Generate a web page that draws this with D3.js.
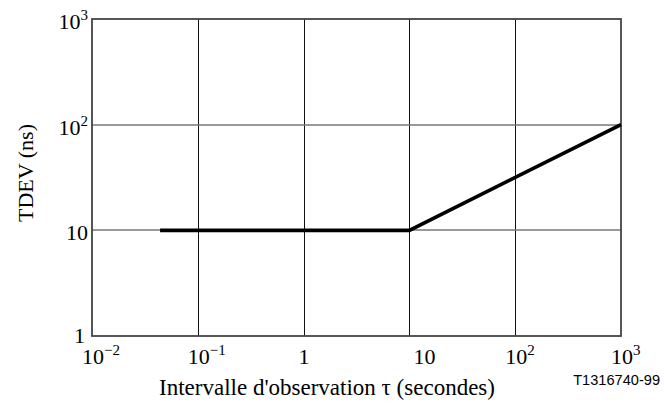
<!DOCTYPE html>
<html>
<head>
<meta charset="utf-8">
<script src="https://cdn.jsdelivr.net/npm/d3@7"></script>
<style>
  body { margin: 0; background: #fff; }
  text { font-family: "Liberation Serif", "Times New Roman", serif; fill: #000; }
</style>
</head>
<body>
<div id="chart"></div>
<script>
// TDEV mask: flat 10 ns up to tau = 10 s, then rising as sqrt(tau)
var tau = [0.044, 10, 1000];
var tdev = [10, 10, 100];
var xTicks = [0.01, 0.1, 1, 10, 100, 1000];
var yTicks = [1, 10, 100, 1000];

var width = 664, height = 409;
var margin = {top: 19, right: 43, bottom: 73, left: 92};

var svg = d3.select("#chart").append("svg")
    .attr("width", width)
    .attr("height", height);

var x = d3.scaleLog().domain([0.01, 1000]).range([margin.left, width - margin.right]);
var y = d3.scaleLog().domain([1, 1000]).range([height - margin.bottom, margin.top]);

// grid
svg.append("g").selectAll("line")
    .data(xTicks.slice(1, -1))
  .enter().append("line")
    .attr("x1", d => Math.round(x(d)) + 0.5).attr("x2", d => Math.round(x(d)) + 0.5)
    .attr("y1", y(1)).attr("y2", y(1000))
    .attr("stroke", "#111").attr("stroke-width", 1);

svg.append("g").selectAll("line")
    .data(yTicks.slice(1, -1))
  .enter().append("line")
    .attr("x1", x(0.01)).attr("x2", x(1000))
    .attr("y1", d => Math.round(y(d))).attr("y2", d => Math.round(y(d)))
    .attr("stroke", "#777").attr("stroke-width", 1.4);

// frame
svg.append("rect")
    .attr("x", x(0.01)).attr("y", y(1000))
    .attr("width", x(1000) - x(0.01))
    .attr("height", y(1) - y(1000))
    .attr("fill", "none").attr("stroke", "#444").attr("stroke-width", 1.8);

// mask curve
var line = d3.line().x(d => x(d[0])).y(d => y(d[1]));
svg.append("path")
    .datum(d3.zip(tau, tdev))
    .attr("d", line)
    .attr("fill", "none")
    .attr("stroke", "#000")
    .attr("stroke-width", 3.6);

function powLabel(sel, v) {
  var e = Math.round(Math.log10(v));
  if (e === 0) { sel.text("1"); return; }
  if (e === 1) { sel.text("10"); return; }
  sel.append("tspan").text("10");
  sel.append("tspan")
      .attr("dy", -9)
      .attr("font-size", 15)
      .text(e < 0 ? "\u2212" + (-e) : e);
}

// x tick labels
svg.append("g").selectAll("text")
    .data(xTicks)
  .enter().append("text")
    .attr("x", d => {
      var e = Math.round(Math.log10(d));
      if (e === 0) return x(d) - 5;
      if (e === 1) return x(d) + 4;
      return x(d) - 10;
    })
    .attr("y", 364)
    .attr("font-size", 22)
    .each(function(d) { powLabel(d3.select(this), d); });

// y tick labels
svg.append("g").selectAll("text")
    .data(yTicks)
  .enter().append("text")
    .attr("x", d => d === 1 ? x(0.01) - 7 : x(0.01) - 4)
    .attr("y", d => y(d) + (d === 1 ? 7 : 10))
    .attr("text-anchor", "end")
    .attr("font-size", 22)
    .each(function(d) { powLabel(d3.select(this), d); });

// axis titles
svg.append("text")
    .attr("transform", "translate(33,173) rotate(-90)")
    .attr("text-anchor", "middle")
    .attr("font-size", 22)
    .text("TDEV (ns)");

svg.append("text")
    .attr("x", 327).attr("y", 395)
    .attr("text-anchor", "middle")
    .attr("font-size", 23)
    .text("Intervalle d'observation \u03c4 (secondes)");

svg.append("text")
    .attr("x", 660).attr("y", 385)
    .attr("text-anchor", "end")
    .attr("font-size", 14.6)
    .style("font-family", "'Liberation Sans', Arial, sans-serif")
    .text("T1316740-99");
</script>
</body>
</html>
